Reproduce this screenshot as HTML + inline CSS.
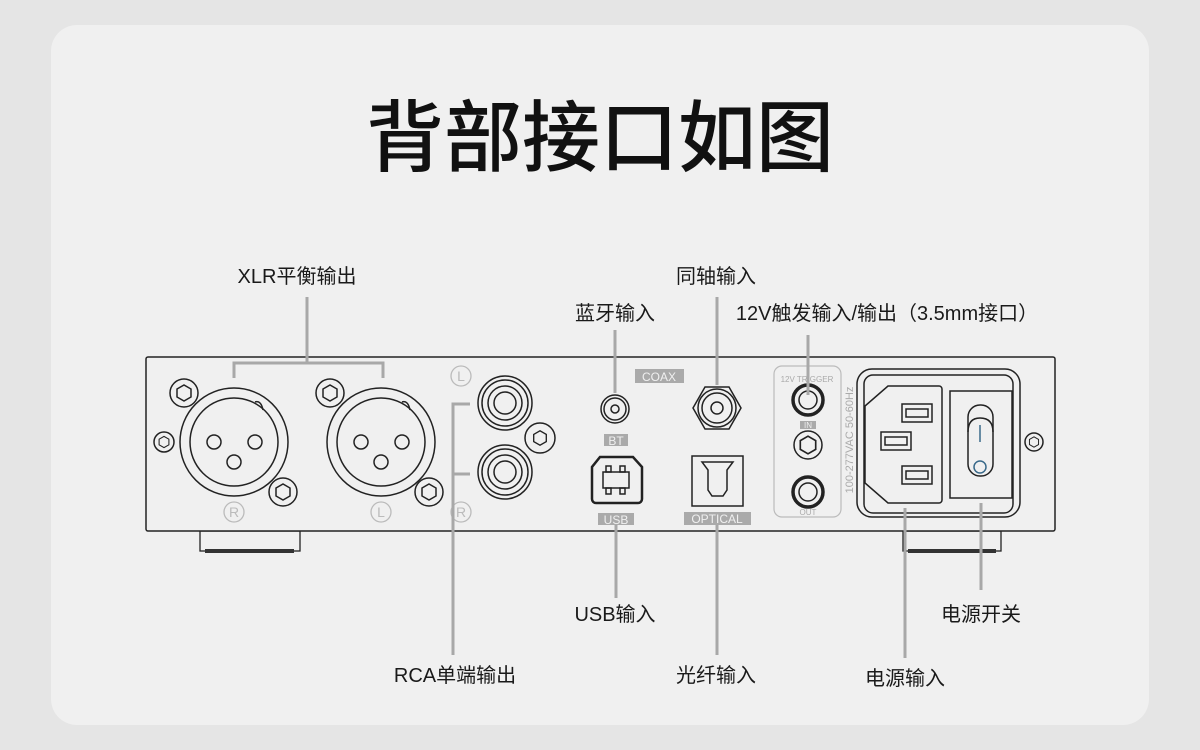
<!DOCTYPE html>
<html><head><meta charset="utf-8"><style>
html,body{margin:0;padding:0;background:#e5e5e5;width:1200px;height:750px;overflow:hidden}
svg{display:block}
text{font-family:"Liberation Sans","Noto Sans CJK SC",sans-serif}
</style></head><body>
<svg width="1200" height="750" viewBox="0 0 1200 750" xmlns="http://www.w3.org/2000/svg">
<defs>
<g id="hex"><polygon points="-7,-4 0,-8 7,-4 7,4 0,8 -7,4" fill="none" stroke="#222" stroke-width="1.5"/></g>
</defs>
<rect x="51" y="25" width="1098" height="700" rx="26" fill="#f0f0f0"/>
<text x="600" y="165" font-size="78" text-anchor="middle" fill="#111" font-weight="500">背部接口如图</text>

<g fill="#1a1a1a" font-size="20" text-anchor="middle">
<text x="297" y="283">XLR平衡输出</text>
<text x="716" y="283">同轴输入</text>
<text x="615" y="320">蓝牙输入</text>
<text x="887" y="320">12V触发输入/输出（3.5mm接口）</text>
<text x="615" y="621">USB输入</text>
<text x="455" y="682">RCA单端输出</text>
<text x="716" y="682">光纤输入</text>
<text x="981" y="621">电源开关</text>
<text x="905" y="685">电源输入</text>
</g>

<g fill="#f0f0f0" stroke="#222" stroke-width="1.3">
<rect x="200" y="531" width="100" height="20"/>
<rect x="903" y="531" width="98" height="20"/>
</g>
<rect x="205" y="549" width="89" height="4" fill="#333"/>
<rect x="908" y="549" width="88" height="4" fill="#333"/>
<rect x="146" y="357" width="909" height="174" rx="2" fill="#f0f0f0" stroke="#222" stroke-width="1.5"/>

<g fill="none" stroke="#222" stroke-width="1.5">
<circle cx="234" cy="442" r="54"/><circle cx="234" cy="442" r="44"/>
<circle cx="214" cy="442" r="7"/><circle cx="255" cy="442" r="7"/><circle cx="234" cy="462" r="7"/>
<circle cx="381" cy="442" r="54"/><circle cx="381" cy="442" r="44"/>
<circle cx="361" cy="442" r="7"/><circle cx="402" cy="442" r="7"/><circle cx="381" cy="462" r="7"/>
<path d="M255,402 q6,-2 8,8"/><path d="M402,402 q6,-2 8,8"/>
<circle cx="184" cy="393" r="14" fill="#f0f0f0"/><circle cx="283" cy="492" r="14" fill="#f0f0f0"/>
<circle cx="330" cy="393" r="14" fill="#f0f0f0"/><circle cx="429" cy="492" r="14" fill="#f0f0f0"/>
<circle cx="164" cy="442" r="10"/>
<circle cx="540" cy="438" r="15"/>
<circle cx="1034" cy="442" r="9"/>
<circle cx="505" cy="403" r="27"/><circle cx="505" cy="403" r="23"/><circle cx="505" cy="403" r="17"/><circle cx="505" cy="403" r="11"/>
<circle cx="505" cy="472" r="27"/><circle cx="505" cy="472" r="23"/><circle cx="505" cy="472" r="17"/><circle cx="505" cy="472" r="11"/>
<circle cx="615" cy="409" r="14"/><circle cx="615" cy="409" r="11"/><circle cx="615" cy="409" r="4"/>
<polygon points="693,408 705,387 729,387 741,408 729,429 705,429"/>
<circle cx="717" cy="408" r="19"/><circle cx="717" cy="408" r="15"/><circle cx="717" cy="408" r="6"/>
<path d="M600,457 h33 l9,10 v32 a4,4 0 0 1 -4,4 h-42 a4,4 0 0 1 -4,-4 v-32 z" stroke-width="2.5"/>
<rect x="603" y="472" width="26" height="16"/>
<rect x="606" y="466" width="5" height="6"/><rect x="620" y="466" width="5" height="6"/>
<rect x="606" y="488" width="5" height="6"/><rect x="620" y="488" width="5" height="6"/>
<rect x="692" y="456" width="51" height="50"/>
<path d="M702,462 h31 l-6,8 v20 l-4,6 h-11 l-4,-6 v-20 z"/>
<rect x="774" y="366" width="67" height="151" rx="8" stroke="#bbb" stroke-width="1.2"/>
<circle cx="808" cy="400" r="15" stroke-width="3.5"/><circle cx="808" cy="400" r="9"/>
<circle cx="808" cy="445" r="14"/>
<circle cx="808" cy="492" r="15" stroke-width="3.5"/><circle cx="808" cy="492" r="9"/>
<rect x="857" y="369" width="163" height="148" rx="15"/>
<rect x="864" y="375" width="149" height="138" rx="9"/>
<path d="M888,386 h51 a3,3 0 0 1 3,3 v111 a3,3 0 0 1 -3,3 h-51 l-23,-20 v-77 z"/>
<rect x="950" y="391" width="62" height="107"/>
<rect x="968" y="405" width="25" height="71" rx="12"/>
<path d="M968,432 q0,-14 12,-14 q13,0 13,14"/>
<rect x="902" y="404" width="30" height="18"/><rect x="906" y="409" width="22" height="8"/>
<rect x="881" y="432" width="30" height="18"/><rect x="885" y="437" width="22" height="8"/>
<rect x="902" y="466" width="30" height="18"/><rect x="906" y="471" width="22" height="8"/>
</g>
<g transform="translate(184,393)"><use href="#hex"/></g>
<g transform="translate(283,492)"><use href="#hex"/></g>
<g transform="translate(330,393)"><use href="#hex"/></g>
<g transform="translate(429,492)"><use href="#hex"/></g>
<g transform="translate(540,438) scale(0.9)"><use href="#hex"/></g>
<g transform="translate(164,442) scale(0.7)"><use href="#hex"/></g>
<g transform="translate(808,445) scale(1.1)"><use href="#hex"/></g>
<g transform="translate(1034,442) scale(0.65)"><use href="#hex"/></g>
<line x1="980" y1="425" x2="980" y2="442" stroke="#3a6a8a" stroke-width="1.5"/>
<circle cx="980" cy="467" r="6" fill="none" stroke="#3a6a8a" stroke-width="1.5"/>

<g fill="none" stroke="#bbb" stroke-width="1.3">
<circle cx="234" cy="512" r="10"/><circle cx="381" cy="512" r="10"/>
<circle cx="461" cy="376" r="10"/><circle cx="461" cy="512" r="10"/>
</g>
<g fill="#bbb" font-size="14" text-anchor="middle">
<text x="234" y="517">R</text><text x="381" y="517">L</text><text x="461" y="381">L</text><text x="461" y="517">R</text>
</g>
<g fill="#aaa">
<rect x="635" y="369" width="49" height="14"/>
<rect x="604" y="434" width="24" height="12"/>
<rect x="598" y="513" width="36" height="12"/>
<rect x="684" y="512" width="67" height="13"/>
<rect x="800" y="421" width="16" height="8"/>
</g>
<g fill="#f0f0f0" font-size="12" text-anchor="middle">
<text x="659" y="381">COAX</text>
<text x="616" y="445">BT</text>
<text x="616" y="524">USB</text>
<text x="717" y="523">OPTICAL</text>
<text x="808" y="428" font-size="8">IN</text>
</g>
<g fill="#aaa" font-size="8" text-anchor="middle">
<text x="807" y="382">12V TRIGGER</text>
<text x="808" y="515">OUT</text>
</g>
<text transform="translate(853,440) rotate(-90)" font-size="11" fill="#aaa" text-anchor="middle">100-277VAC 50-60Hz</text>

<g fill="none" stroke="#a8a8a8" stroke-width="3">
<path d="M307,297 V363 M234,378 V363 H383 V378"/>
<path d="M470,404 H453 V655 M453,474 H470"/>
<path d="M615,330 V393"/>
<path d="M717,297 V385"/>
<path d="M808,335 V395"/>
<path d="M616,525 V598"/>
<path d="M717,525 V655"/>
<path d="M905,508 V658"/>
<path d="M981,503 V590"/>
</g>
</svg>
</body></html>
